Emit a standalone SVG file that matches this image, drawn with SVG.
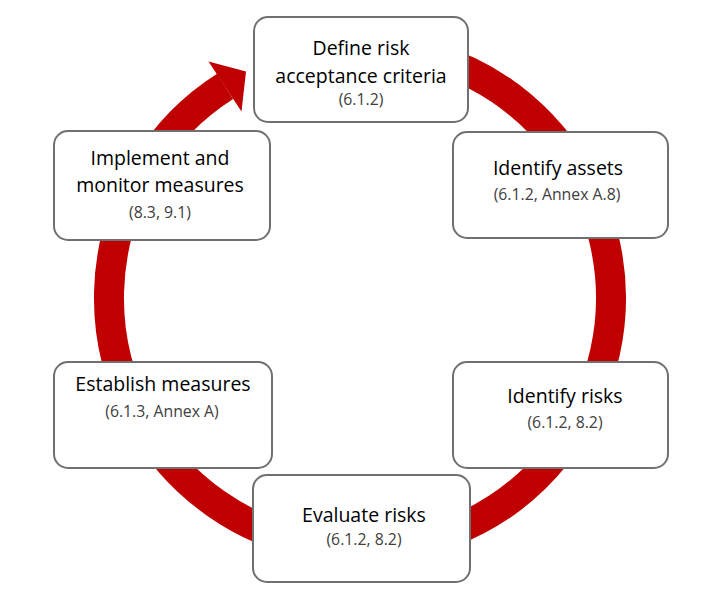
<svg xmlns="http://www.w3.org/2000/svg" width="722" height="600" viewBox="0 0 722 600">
<style>
.box{fill:#ffffff;stroke:#707070;stroke-width:2}
.t{font-family:"Open Sans","Noto Sans",sans-serif;font-size:19.5px;fill:#000000;text-anchor:middle}
.s{font-family:"Open Sans","Noto Sans",sans-serif;font-size:15.8px;fill:#404040;text-anchor:middle}
.ring{fill:none;stroke:#c00000;stroke-width:30}
</style>
<rect width="722" height="600" fill="#ffffff"/>
<g id="connectors">
<path class="ring" d="M 316.4 50.8 A 251 251 0 1 1 225.1 86.3"/>
<polygon points="208.5,61.5 246,71.5 241.5,111.5" fill="#c00000"/>
</g>
<g id="n1"><rect class="box" x="254" y="17" width="214" height="105" rx="14"/>
<text class="t" x="361" y="55">Define risk</text><text class="t" x="361" y="83">acceptance criteria</text><text class="s" x="361" y="105">(6.1.2)</text></g>
<g id="n2"><rect class="box" x="453" y="132" width="215" height="106" rx="14"/>
<text class="t" x="558" y="175">Identify assets</text><text class="s" x="557" y="200">(6.1.2, Annex A.8)</text></g>
<g id="n3"><rect class="box" x="453" y="362" width="215" height="106" rx="14"/>
<text class="t" x="565" y="403">Identify risks</text><text class="s" x="565" y="428">(6.1.2, 8.2)</text></g>
<g id="n4"><rect class="box" x="253" y="475" width="217" height="107" rx="14"/>
<text class="t" x="364" y="522">Evaluate risks</text><text class="s" x="364" y="545">(6.1.2, 8.2)</text></g>
<g id="n5"><rect class="box" x="54" y="362" width="218" height="106" rx="14"/>
<text class="t" x="163" y="391">Establish measures</text><text class="s" x="162" y="417">(6.1.3, Annex A)</text></g>
<g id="n6"><rect class="box" x="54" y="131" width="216" height="109" rx="14"/>
<text class="t" x="160" y="165">Implement and</text><text class="t" x="160" y="192">monitor measures</text><text class="s" x="160" y="218">(8.3, 9.1)</text></g>
</svg>
